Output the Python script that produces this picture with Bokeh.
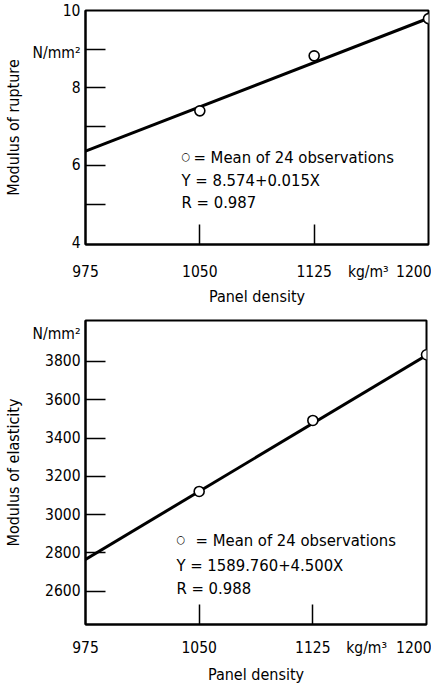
from bokeh.plotting import figure
from bokeh.layouts import column
from bokeh.models import Range1d, FixedTicker, Label
from bokeh.embed import file_html
from bokeh.resources import INLINE

FONT = "DejaVu Sans Condensed"
TICK_FS = "15.5px"
AXIS_FS = "16px"
TEXT_FS = "16.5px"
SYM_FS = "11px"

# ---- data ----
density = [1050, 1125, 1200]
mor_mean = [7.41, 8.83, 9.79]
mor_line_x = [975, 1200]
mor_line_y = [6.37, 9.80]

moe_mean = [3121, 3492, 3835]
moe_line_x = [975, 1200]
moe_line_y = [2766, 3832]

# x axis: labelled positions and the inner tick marks
x_label_pos = [975, 1050, 1125, 1160.5, 1192]
x_labels = ["975", "1050", "1125", "kg/m³", "1200"]
x_marks = [1050, 1125]

# top y axis
mor_label_pos = [4, 6, 8, 8.9, 10]
mor_labels = ["4", "6", "8", "N/mm²", "10"]
mor_marks = [5, 6, 7, 8, 9]

# bottom y axis
moe_label_pos = [2600, 2800, 3000, 3200, 3400, 3600, 3800, 3941]
moe_labels = ["2600", "2800", "3000", "3200", "3400", "3600", "3800", "N/mm²"]
moe_marks = [2600, 2800, 3000, 3200, 3400, 3600, 3800]

symbol = "○"
mor_text = ["= Mean of 24 observations", "Y = 8.574+0.015X", "R = 0.987"]
moe_text = ["= Mean of 24 observations", "Y = 1589.760+4.500X", "R = 0.988"]


def set_axis(a, pos, labels, marks, label_standoff, axis_label, axis_label_standoff):
    a.ticker = FixedTicker(ticks=pos, minor_ticks=marks)
    a.major_label_overrides = {p: t for p, t in zip(pos, labels)}
    a.major_tick_in = 0
    a.major_tick_out = 0
    a.minor_tick_in = 20
    a.minor_tick_out = 0
    a.minor_tick_line_width = 1.5
    a.minor_tick_line_color = "black"
    a.axis_line_color = "black"
    a.axis_line_width = 2
    a.major_label_text_font = FONT
    a.major_label_text_font_size = TICK_FS
    a.major_label_text_color = "black"
    a.major_label_standoff = label_standoff
    a.axis_label = axis_label
    a.axis_label_text_font = FONT
    a.axis_label_text_font_size = AXIS_FS
    a.axis_label_text_font_style = "normal"
    a.axis_label_text_color = "black"
    a.axis_label_standoff = axis_label_standoff


def base(p):
    p.xgrid.visible = False
    p.ygrid.visible = False
    p.outline_line_color = "black"
    p.outline_line_width = 2
    p.background_fill_color = "white"
    p.border_fill_color = "white"


def lab(p, x, y, text, size=TEXT_FS):
    p.add_layout(Label(x=x, y=y, text=text, text_font=FONT, text_font_size=size,
                       text_color="black", text_align="left", text_baseline="middle"))


# ---- top panel: modulus of rupture ----
p1 = figure(frame_width=343, frame_height=234, x_range=Range1d(975, 1200),
            y_range=Range1d(3.96, 10.0), output_backend="svg", toolbar_location=None,
            min_border_left=79, min_border_right=3, min_border_top=10, min_border_bottom=0)
base(p1)
set_axis(p1.xaxis[0], x_label_pos, x_labels, x_marks, 18, "Panel density", 3)
set_axis(p1.yaxis[0], mor_label_pos, mor_labels, mor_marks, 5, "Modulus of rupture", 7)
p1.line(mor_line_x, mor_line_y, line_color="black", line_width=3)
p1.scatter(density, mor_mean, size=10, marker="circle", fill_color="white",
           line_color="black", line_width=1.6)
lab(p1, 1038, 6.22, symbol, SYM_FS)
lab(p1, 1045.8, 6.20, mor_text[0])
lab(p1, 1038, 5.60, mor_text[1])
lab(p1, 1038, 5.04, mor_text[2])

# ---- bottom panel: modulus of elasticity ----
p2 = figure(frame_width=341, frame_height=304, x_range=Range1d(975, 1200),
            y_range=Range1d(2426, 4014), output_backend="svg", toolbar_location=None,
            min_border_left=79, min_border_right=5, min_border_top=12, min_border_bottom=0)
base(p2)
set_axis(p2.xaxis[0], x_label_pos, x_labels, x_marks, 14, "Panel density", 5)
set_axis(p2.yaxis[0], moe_label_pos, moe_labels, moe_marks, 5, "Modulus of elasticity", 7)
p2.line(moe_line_x, moe_line_y, line_color="black", line_width=3)
p2.scatter(density, moe_mean, size=10, marker="circle", fill_color="white",
           line_color="black", line_width=1.6)
lab(p2, 1035, 2870, symbol, SYM_FS)
lab(p2, 1047.6, 2865, moe_text[0])
lab(p2, 1035, 2734, moe_text[1])
lab(p2, 1035, 2614, moe_text[2])

layout = column(p1, p2, spacing=0)
open("out.html", "w").write(file_html(layout, INLINE))
